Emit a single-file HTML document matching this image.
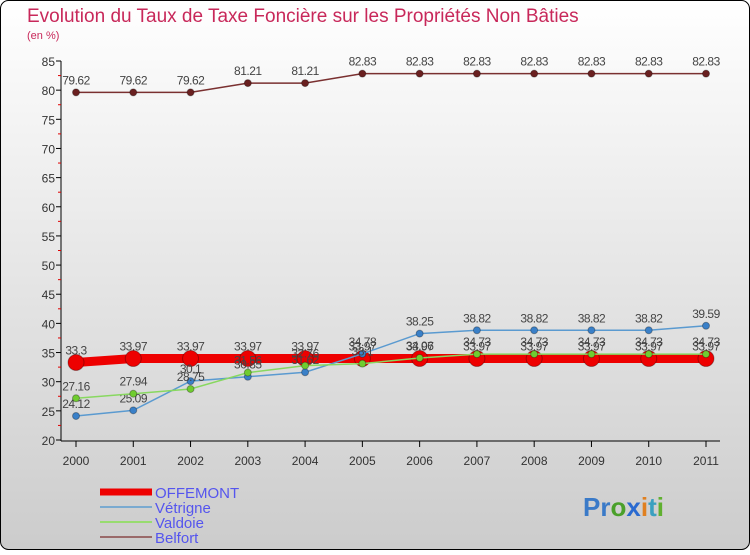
<!DOCTYPE html>
<html><head><meta charset="utf-8"><style>
body{margin:0;width:750px;height:550px;overflow:hidden;font-family:"Liberation Sans",sans-serif}
</style></head><body>
<svg id="chart" width="750" height="550" xmlns="http://www.w3.org/2000/svg">
<defs><linearGradient id="bg" x1="0" y1="0" x2="0" y2="1"><stop offset="0" stop-color="#ffffff"/><stop offset="1" stop-color="#cccccc"/></linearGradient></defs>
<rect x="0.5" y="0.5" width="749" height="549" rx="8" fill="url(#bg)" stroke="#000"/>
<text x="27" y="22" font-size="19" fill="#c8285a">Evolution du Taux de Taxe Foncière sur les Propriétés Non Bâties</text>
<text x="27" y="39" font-size="11" fill="#c8285a">(en %)</text>
<g id="axes"></g><g id="series"></g><g id="legend"></g>
<text x="583" y="516" font-size="26" font-weight="bold"><tspan fill="#3a7ac8">Pr</tspan><tspan fill="#4aa02a">o</tspan><tspan fill="#2a6ad0">x</tspan><tspan fill="#e08020">i</tspan><tspan fill="#3aa0c0">t</tspan><tspan fill="#60b030">i</tspan></text>
</svg>
<script>
const years=["2000","2001","2002","2003","2004","2005","2006","2007","2008","2009","2010","2011"];
const yTicks=[20,25,30,35,40,45,50,55,60,65,70,75,80,85];
const offemont=[33.3,33.97,33.97,33.97,33.97,33.97,33.97,33.97,33.97,33.97,33.97,33.97];
const vetrigne=[24.12,25.09,30.1,30.85,31.62,34.78,38.25,38.82,38.82,38.82,38.82,39.59];
const valdoie=[27.16,27.94,28.75,31.56,32.76,33.1,34.06,34.73,34.73,34.73,34.73,34.73];
const belfort=[79.62,79.62,79.62,81.21,81.21,82.83,82.83,82.83,82.83,82.83,82.83,82.83];
const names=["OFFEMONT","Vétrigne","Valdoie","Belfort"];
const NS="http://www.w3.org/2000/svg";
const X=i=>76+i*(630/11);
const Y=v=>440-(v-20)*(379/65);
function mk(t,a,p){const e=document.createElementNS(NS,t);for(const k in a)e.setAttribute(k,a[k]);p.appendChild(e);return e;}
const ax=document.getElementById('axes');
let e=mk('line',{x1:61,y1:61,x2:61,y2:441,stroke:'#000'},ax);


e=mk('line',{x1:61,y1:441,x2:720,y2:441,stroke:'#000'},ax);


yTicks.forEach(t=>{
 mk('line',{x1:56,y1:Y(t),x2:61,y2:Y(t),stroke:'#000'},ax);
 if(t<85) mk('line',{x1:58,y1:Y(t+2.5),x2:61,y2:Y(t+2.5),stroke:'#e00000'},ax);
 const tx=mk('text',{x:55,y:Y(t)+5,'font-size':12,'text-anchor':'end',fill:'#333'},ax);tx.textContent=t;
 
 
});
years.forEach((y,i)=>{
 mk('line',{x1:X(i),y1:441,x2:X(i),y2:447,stroke:'#000'},ax);
 const tx=mk('text',{x:X(i),y:465,'font-size':12,'text-anchor':'middle',fill:'#333'},ax);tx.textContent=y;
 
 
});
const sg=document.getElementById('series');
const defs=[[offemont,'#ee0000',9,8,'#ee0000','offemont'],[belfort,'#7a3030',1.5,3.5,'#6a2020','belfort'],[vetrigne,'#5a9ad0',1.5,3.5,'#3a80c8','vetrigne'],[valdoie,'#88d860',1.5,3.5,'#70cc30','valdoie']];
defs.forEach(([d,c,w,r,fc,n])=>{
 const g=mk('g',{},sg);
 
 
 const p=mk('polyline',{points:d.map((v,i)=>X(i)+','+Y(v)).join(' '),fill:'none',stroke:c,'stroke-width':w},g);
 
 
 d.forEach((v,i)=>{
  const ci=mk('circle',{cx:X(i),cy:Y(v),r:r,fill:fc,stroke:'rgba(0,0,0,0.3)'},g);
  
  
  const t=mk('text',{x:X(i),y:Y(v)-8,'font-size':12,'text-anchor':'middle',fill:'#444','letter-spacing':'-0.5'},g);
  t.textContent=String(v);
  
  
 });
});
const lg=document.getElementById('legend');
const lc=['#ee0000','#7aaad0','#98dc70','#9a6a6a'],lw=[7,2,2,2];
names.forEach((n,i)=>{
 const y=492+i*15;
 const g=mk('g',{},lg);
 
 
 mk('line',{x1:100,y1:y,x2:152,y2:y,stroke:lc[i],'stroke-width':lw[i]},g);
 const t=mk('text',{x:155,y:y+6,'font-size':15,fill:'#5555ee'},g);t.textContent=n;
});
</script>
</body></html>
